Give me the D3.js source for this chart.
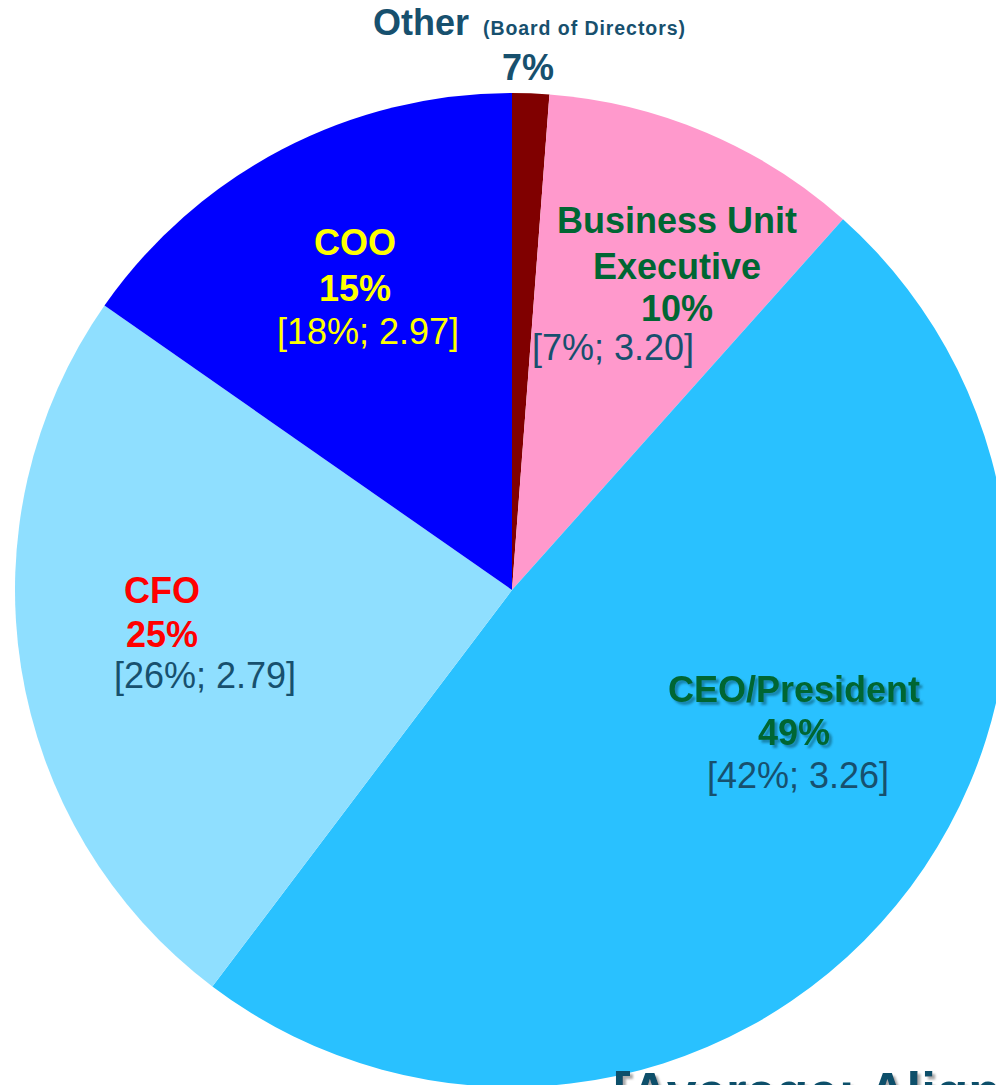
<!DOCTYPE html>
<html><head><meta charset="utf-8">
<script src="https://cdn.jsdelivr.net/npm/d3@7"></script>
<style>
html,body{margin:0;padding:0;background:#fff;overflow:hidden;}
svg{display:block;font-family:Arial,"Liberation Sans",sans-serif;}
</style></head>
<body>
<svg id="chart" width="996" height="1085"></svg>
<script>
// Data
const categories = ["Other", "Business Unit Executive", "CEO/President", "CFO", "COO"];
const sliceValues = [1.2, 10.4, 48.7, 24.4, 15.3];
const pctLabels = ["7%", "10%", "49%", "25%", "15%"];
const bracketLabels = ["", "[7%; 3.20]", "[42%; 3.26]", "[26%; 2.79]", "[18%; 2.97]"];
const sliceColors = ["#800000", "#ff99cc", "#29c1ff", "#8fdfff", "#0000ff"];

const svg = d3.select("#chart");
const cx = 512, cy = 590, R = 497;

const defs = svg.append("defs");
const sh = defs.append("filter").attr("id","shadow").attr("x","-10%").attr("y","-10%").attr("width","130%").attr("height","140%");
sh.append("feDropShadow").attr("dx",3).attr("dy",3).attr("stdDeviation",1.2).attr("flood-color","#0a3a4a").attr("flood-opacity",0.45);
const sh2 = defs.append("filter").attr("id","shadow2").attr("x","-10%").attr("y","-10%").attr("width","130%").attr("height","140%");
sh2.append("feDropShadow").attr("dx",3).attr("dy",3).attr("stdDeviation",1).attr("flood-color","#888").attr("flood-opacity",0.7);

const pie = d3.pie().sort(null).value(d => d)(sliceValues);
const arc = d3.arc().innerRadius(0).outerRadius(R);
const g = svg.append("g").attr("transform", `translate(${cx},${cy})`);
g.selectAll("path").data(pie).join("path")
  .attr("d", arc)
  .attr("fill", (d,i) => sliceColors[i]);

// Labels
const labelSpec = [
  null,
  {x:677, lines:[["Business Unit",233],["Executive",279],["PCT",321]], color:"#006633", br:{x:532, y:360, anchor:"start", color:"#17506e"}},
  {x:794, lines:[["CEO/President",702],["PCT",745]], color:"#006633", shadow:true, br:{x:798, y:788, anchor:"middle", color:"#17506e"}},
  {x:162, lines:[["CFO",603],["PCT",647]], color:"#ff0000", br:{x:205, y:688, anchor:"middle", color:"#17506e"}},
  {x:355, lines:[["COO",255],["PCT",301]], color:"#ffff00", br:{x:368, y:344, anchor:"middle", color:"#ffff00"}}
];
const lbl = svg.append("g");
labelSpec.forEach((s,i) => {
  if(!s) return;
  s.lines.forEach(([t,y]) => {
    const txt = lbl.append("text").attr("x", s.x).attr("y", y)
      .attr("text-anchor","middle").attr("font-size",36).attr("font-weight","bold")
      .attr("fill", s.color).text(t === "PCT" ? pctLabels[i] : t);
    if(s.shadow) txt.attr("filter","url(#shadow)");
  });
  lbl.append("text").attr("x", s.br.x).attr("y", s.br.y)
    .attr("text-anchor", s.br.anchor).attr("font-size",36)
    .attr("fill", s.br.color).text(bracketLabels[i]);
});

// Other label at top
lbl.append("text").attr("x",373).attr("y",35).attr("font-size",36).attr("font-weight","bold")
  .attr("fill","#17506e").text(categories[0]);
lbl.append("text").attr("x",483).attr("y",35).attr("font-size",19.5).attr("font-weight","bold")
  .attr("fill","#17506e").attr("textLength",202).attr("lengthAdjust","spacing").text("(Board of Directors)");
lbl.append("text").attr("x",528).attr("y",80).attr("text-anchor","middle").attr("font-size",36).attr("font-weight","bold")
  .attr("fill","#17506e").text(pctLabels[0]);

// Bottom title, cut off by the bottom edge as in the reference
lbl.append("text").attr("x",613).attr("y",1110).attr("font-size",53).attr("font-weight","bold")
  .attr("fill","#0d4f6b").attr("filter","url(#shadow2)").text("[Average; Alignment]");
</script>
</body></html>
